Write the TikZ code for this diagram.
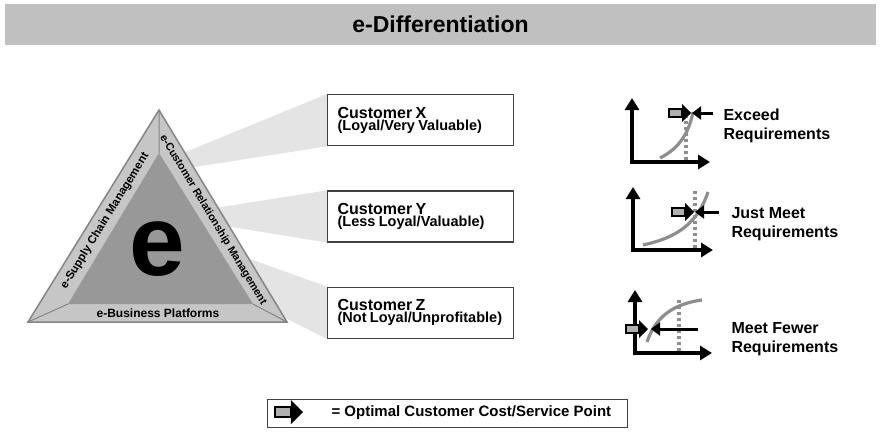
\documentclass[tikz,border=0pt]{standalone}
\usepackage{fontspec}
\setmainfont{Liberation Sans}
\usetikzlibrary{arrows.meta,positioning,calc,backgrounds}

\definecolor{bargray}{HTML}{C0C0C0}
\definecolor{bandgray}{HTML}{C6C6C6}
\definecolor{coregray}{HTML}{989898}
\definecolor{edgegray}{HTML}{858585}
\definecolor{beamgray}{HTML}{E4E4E4}
\definecolor{crvgray}{HTML}{8E8E8E}
\definecolor{markgray}{HTML}{B0B0B0}
\definecolor{boxline}{HTML}{404040}

\newcommand\custname{\fontsize{16}{19}\selectfont}
\newcommand\custnote{\fontsize{14.5}{18}\selectfont}

\begin{document}
\begin{tikzpicture}[%
	x=1pt, y=-1pt,              % pixel grid, y going down
	every node/.style={font=\bfseries},
	>={Triangle[length=9pt,width=13pt]},
	node distance=44pt,         % gap between the customer boxes
	]
	% -------------------------------------------------
	% styles
	\tikzset{
		title/.style={fill=bargray, minimum width=871pt, minimum height=41pt,
			font=\bfseries\fontsize{23}{27}\selectfont},
		cust/.style={draw=boxline, line width=1.3pt, fill=white, align=left,
			text width=166pt, minimum height=51pt, inner sep=10pt},
		band/.style={font=\bfseries\fontsize{11.5}{13}\selectfont},
		beam/.style={fill=beamgray},
		axis/.style={line width=4pt,
			{Triangle[length=12pt,width=14pt]}-{Triangle[length=12pt,width=14pt]}},
		crv/.style={line width=3.2pt, crvgray},
		lim/.style={line width=3.5pt, crvgray, dash pattern=on 3.5pt off 2.5pt},
		need/.style={line width=3pt, ->},
		lbl/.style={anchor=west, align=left, font=\bfseries\fontsize{16}{19}\selectfont},
		% optimal cost/service point marker, tip at the origin
		optpt/.pic={
			\draw[fill=markgray] (-#1,-3.8) rectangle (-9,3.8);
			\fill (0,0) -- (-9,-9) -- (-9,9) -- cycle;
		},
	}
	\useasboundingbox (0,0) rectangle (881,432);

	% title bar
	\node[title] (ttl) at (440.5,24.5) {e-Differentiation};

	% -------------------------------------------------
	% customer boxes
	\node[cust, anchor=north west] (bx) at (327,94)
		{\custname Customer X\\\custnote (Loyal/Very Valuable)};
	\node[cust, below=of bx] (by)
		{\custname Customer Y\\\custnote (Less Loyal/Valuable)};
	\node[cust, below=of by] (bz)
		{\custname Customer Z\\\custnote (Not Loyal/Unprofitable)};

	% triangle corners, outer and inner
	\coordinate (ta) at (159,110);
	\coordinate (tl) at (28,322);
	\coordinate (tr) at (287,322);
	\coordinate (ia) at (159,153);
	\coordinate (il) at (68,304);
	\coordinate (ir) at (253,304);

	% beams from the triangle to the boxes
	\begin{scope}[on background layer]
		\fill[beam] ($(ta)!0.20!(tr)$) -- (bx.north west) -- (bx.south west) -- ($(ta)!0.27!(tr)$) -- cycle;
		\fill[beam] ($(ta)!0.46!(tr)$) -- (by.north west) -- (by.south west) -- ($(ta)!0.55!(tr)$) -- cycle;
		\fill[beam] ($(ta)!0.70!(tr)$) -- (bz.north west) -- (bz.south west) -- ($(ta)!0.98!(tr)$) -- cycle;
	\end{scope}

	\filldraw[fill=bandgray, draw=edgegray, line width=1.5pt] (ta) -- (tl) -- (tr) -- cycle;
	\fill[coregray] (ia) -- (il) -- (ir) -- cycle;
	\draw[edgegray, line width=1pt] (ta) -- (ia) (tl) -- (il) (tr) -- (ir);

	\node[band, rotate=58.3] (scm) at (105,221) {e-Supply Chain Management};
	\node[band, rotate=-58.9, font=\bfseries\fontsize{10.8}{13}\selectfont] (crm) at (213,220)
		{e-Customer Relationship Management};
	\node[band, font=\bfseries\fontsize{12}{14}\selectfont] (ebp) at (158,313) {e-Business Platforms};
	\node[font=\bfseries\fontsize{100}{100}\selectfont] (core) at (157,249) {e};

	% -------------------------------------------------
	% chart 1: exceed
	\coordinate (y1) at (632,98);
	\coordinate (x1) at (710,162);
	\draw[axis] (y1) |- (x1);
	\draw[crv] (660,158) .. controls (680,148) and (689,132) .. (693,112);
	\draw[lim] (686,160) -- (686,117);
	\pic[line width=1.8pt] at (691,113) {optpt=22};
	\draw[need] (713,113) -- (692,113);
	\node[lbl] (l1) at (720,126) {Exceed\\Requirements};

	% chart 2: just meet
	\coordinate (y2) at (633,187);
	\coordinate (x2) at (713,250);
	\draw[axis] (y2) |- (x2);
	\draw[crv] (643,245) .. controls (675,238) and (697,225) .. (708,192);
	\draw[lim] (695,248) -- (695,190);
	\pic[line width=1.8pt] at (694,212) {optpt=22};
	\draw[need] (719,212) -- (695,212);
	\node[lbl] (l2) at (728,224) {Just Meet\\Requirements};

	% chart 3: meet fewer
	\coordinate (y3) at (635,290);
	\coordinate (x3) at (712,353);
	\draw[axis] (y3) |- (x3);
	\draw[crv] (647,342) .. controls (655,318) and (672,304) .. (702,300);
	\draw[lim] (679,351) -- (679,300);
	\pic[line width=1.8pt] at (648,329) {optpt=22};
	\draw[need] (698,329) -- (651,329);
	\node[lbl] (l3) at (728,339) {Meet Fewer\\Requirements};

	% -------------------------------------------------
	% legend
	\node[draw=boxline, line width=1pt, minimum width=360pt, minimum height=28pt,
		anchor=north west] (leg) at (267,399) {};
	\pic[line width=2.2pt, scale=1.35] at (303,412) {optpt=21};
	\node[lbl, font=\bfseries\fontsize{15}{18}\selectfont] (legt) at (328,413)
		{= Optimal Customer Cost/Service Point};
\end{tikzpicture}
\end{document}
